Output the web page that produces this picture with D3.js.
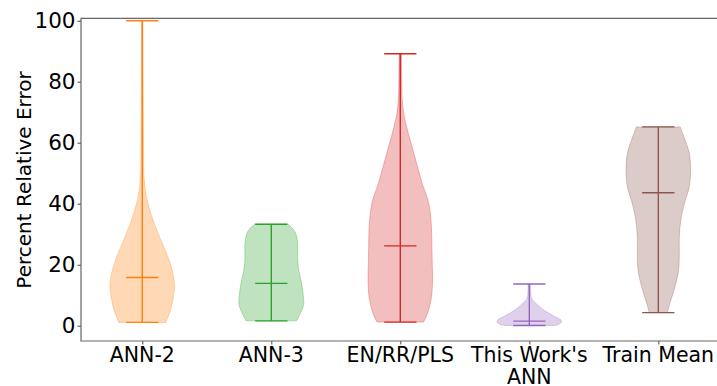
<!DOCTYPE html>
<html><head><meta charset="utf-8">
<script src="https://cdn.jsdelivr.net/npm/d3@7"></script>
<style>body{margin:0;background:#fff;overflow:hidden} text{font-family:"DejaVu Sans",sans-serif;fill:#000}</style>
</head><body>
<svg id="c" width="717" height="386"></svg>
<script>
const categories = ["ANN-2", "ANN-3", "EN/RR/PLS", "This Work's\nANN", "Train Mean"];
const colors = ["#ff7f0e", "#2ca02c", "#d62728", "#9467bd", "#8c564b"];
const minValues = [1.1, 1.6, 1.2, 0.1, 4.3];
const maxValues = [100, 33.3, 89.2, 13.7, 65.2];
const meanValues = [15.8, 13.9, 26.2, 1.5, 43.6];
const yTicks = [0, 20, 40, 60, 80, 100];
// density profiles: [value, relative width]
const densANN2 = [[1.1,0.73],[3,0.8],[6,0.9],[10,0.97],[13,1.0],[16,0.97],[20,0.88],[25,0.7],[30,0.5],[35,0.32],[40,0.18],[44,0.1],[48,0.06],[52,0.045],[58,0.04],[65,0.035],[75,0.03],[85,0.025],[100,0.02]];
const densANN3 = [[1.6,0.78],[3.6,0.88],[6.9,1.0],[10.2,0.99],[14.5,0.93],[17.8,0.86],[21.1,0.82],[24.3,0.82],[27.6,0.81],[30.9,0.73],[33.3,0.52]];
const densEN = [[1.2,0.72],[4.2,0.85],[9.6,0.97],[15,1.0],[20.5,0.99],[26,0.98],[31.4,0.97],[37,0.93],[41.5,0.85],[46,0.7],[50,0.59],[55,0.46],[60,0.33],[65,0.2],[70,0.1],[74,0.06],[80,0.045],[89.2,0.035]];
const densThis = [[0.1,0.78],[0.4,0.9],[1.3,1.0],[2.1,0.96],[3.2,0.76],[4.8,0.5],[7,0.24],[8.6,0.09],[10,0.05],[12,0.04],[13.7,0.035]];
const densTrain = [[4.3,0.28],[7.4,0.36],[12.9,0.52],[18.3,0.63],[23.8,0.65],[29.2,0.65],[34.7,0.7],[40.2,0.81],[45.6,0.96],[51.1,1.0],[56.6,0.96],[60.9,0.83],[65.2,0.68]];
const densities = [densANN2, densANN3, densEN, densThis, densTrain];

const svg = d3.select("#c");
const L = 81, R = 719.6, T = 18.3, B = 341;
const x = d3.scaleLinear().domain([0.525, 5.475]).range([L, R]);
const y = d3.scaleLinear().domain([-5, 100.8]).range([B, T]);
const halfW = 0.25, capW = 0.125;

categories.forEach((c, i) => {
  const pos = i + 1, col = colors[i];
  const area = d3.area().curve(d3.curveCatmullRom.alpha(0.5))
    .y(d => y(d[0])).x0(d => x(pos - halfW * d[1])).x1(d => x(pos + halfW * d[1]));
  svg.append("path").attr("d", area(densities[i]))
    .attr("fill", col).attr("fill-opacity", 0.3)
    .attr("stroke", col).attr("stroke-opacity", 0.3).attr("stroke-width", 1);
  const g = svg.append("g").attr("stroke", col).attr("stroke-width", 1.4);
  g.append("line").attr("x1", x(pos)).attr("x2", x(pos)).attr("y1", y(minValues[i])).attr("y2", y(maxValues[i]));
  [minValues[i], maxValues[i], meanValues[i]].forEach(v => {
    g.append("line").attr("x1", x(pos - capW)).attr("x2", x(pos + capW)).attr("y1", y(v)).attr("y2", y(v));
  });
});

// spines
const sp = svg.append("g").attr("stroke", "#666").attr("stroke-width", 1.2).attr("fill", "none");
sp.append("path").attr("d", `M${R},${T}H${L}V${B}H${R}`);

// y axis
const yAxis = svg.append("g").attr("transform", `translate(${L},0)`)
  .call(d3.axisLeft(y).tickValues(yTicks).tickSize(3.5).tickPadding(2).tickFormat(d3.format("d")));
yAxis.select(".domain").remove();
yAxis.selectAll("line").attr("stroke", "#666").attr("stroke-width", 1.2);
yAxis.selectAll("text").attr("font-size", 21.5).attr("font-family", "DejaVu Sans").attr("fill", "#000");

// x axis
const xAxis = svg.append("g").attr("transform", `translate(0,${B})`)
  .call(d3.axisBottom(x).tickValues(categories.map((c, i) => i + 1)).tickSize(3.5).tickFormat(""));
xAxis.select(".domain").remove();
xAxis.selectAll("line").attr("stroke", "#666").attr("stroke-width", 1.2);
categories.forEach((c, i) => {
  const t = svg.append("text").attr("x", x(i + 1)).attr("y", 362)
    .attr("text-anchor", "middle").attr("font-size", 20.5);
  c.split("\n").forEach((ln, k) => {
    t.append("tspan").attr("x", x(i + 1)).attr("dy", k === 0 ? 0 : 22).text(ln);
  });
});

// y label
svg.append("text").attr("transform", "translate(31,180) rotate(-90)")
  .attr("text-anchor", "middle").attr("font-size", 20).text("Percent Relative Error");
</script>
</body></html>
